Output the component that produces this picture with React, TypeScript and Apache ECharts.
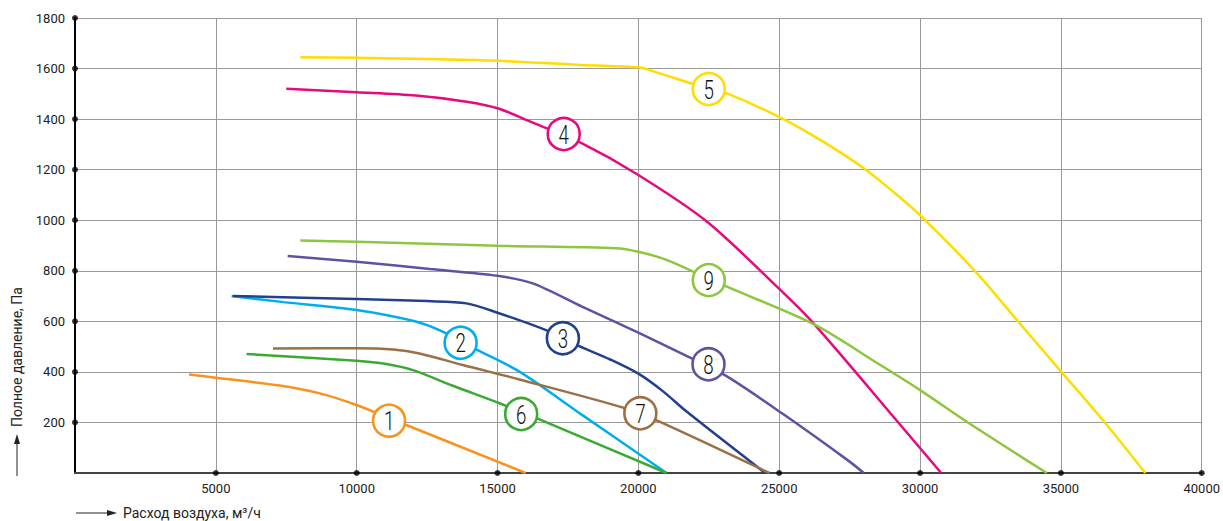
import React, { useEffect, useRef } from "react";
import * as echarts from "echarts";

const curveNames = ["1", "2", "3", "4", "5", "6", "7", "8", "9"];
const curveColors = ["#F7931E", "#00AEEF", "#22408F", "#E6097F", "#FFDD00", "#3AAA35", "#9C7047", "#5E52A2", "#8DC63F"];

const flow1 = [4050, 5000, 7270, 8690, 9990, 11760, 16000];
const pres1 = [390, 377, 346, 315, 269, 190, 0];
const flow2 = [5560, 7400, 10000, 12100, 13050, 14240, 15780, 18000, 21000];
const pres2 = [700, 676, 645, 599, 559, 489, 401, 230, 0];
const flow3 = [5600, 10000, 12500, 13900, 15000, 16700, 17900, 19000, 20030, 20900, 21690, 24500];
const pres3 = [700, 688, 680, 671, 634, 566, 502, 449, 391, 321, 245, 0];
const flow4 = [7500, 10000, 12100, 13900, 15000, 16250, 18000, 20000, 22440, 24975, 26250, 29250, 30750];
const pres4 = [1520, 1506, 1493, 1469, 1443, 1386, 1304, 1179, 994, 731, 588, 197, 0];
const flow5 = [8000, 10000, 15000, 18000, 20000, 20400, 22500, 23140, 24975, 26500, 28014, 29000, 30000, 31975, 33510, 35010, 36580, 38000];
const pres5 = [1645, 1643, 1631, 1614, 1605, 1594, 1519, 1502, 1410, 1315, 1205, 1117, 1020, 796, 596, 401, 197, 0];
const flow6 = [6090, 9990, 11050, 12000, 13420, 15070, 16490, 21000];
const pres6 = [471, 444, 431, 407, 345, 276, 212, 0];
const flow7 = [7030, 9990, 11290, 12230, 13770, 15780, 19540, 20750, 24650];
const pres7 = [493, 494, 489, 473, 427, 370, 256, 203, 0];
const flow8 = [7550, 10000, 12600, 15000, 16250, 18000, 20000, 21800, 23100, 25100, 27500, 28000];
const pres8 = [858, 836, 807, 780, 750, 658, 555, 458, 385, 236, 45, 0];
const flow9 = [8000, 10000, 15000, 19200, 20000, 21000, 22500, 23140, 26240, 28550, 30000, 31740, 34500];
const pres9 = [920, 915, 899, 889, 875, 843, 768, 737, 588, 430, 328, 197, 0];

const labelFlow = [11150, 13690, 17320, 17350, 22500, 15840, 20070, 22490, 22500];
const labelPressure = [207, 515, 533, 1341, 1519, 233, 236, 430, 763];

const xTicks = [5000, 10000, 15000, 20000, 25000, 30000, 35000, 40000];
const yTicks = [200, 400, 600, 800, 1000, 1200, 1400, 1600, 1800];

const flows = [flow1, flow2, flow3, flow4, flow5, flow6, flow7, flow8, flow9];
const pressures = [pres1, pres2, pres3, pres4, pres5, pres6, pres7, pres8, pres9];

const FONT = "Roboto, 'DejaVu Sans', sans-serif";

export default function App() {
  const ref = useRef<HTMLDivElement>(null);
  useEffect(() => {
    if (!ref.current) return;
    const chart = echarts.init(ref.current, undefined, { renderer: "svg" });
    const lineSeries = flows.map((f, i) => ({
      type: "line",
      name: curveNames[i],
      data: f.map((x, j) => [x, pressures[i][j]]),
      smooth: 0.3,
      showSymbol: false,
      symbol: "none",
      lineStyle: { color: curveColors[i], width: 2.5 },
      z: 3,
      silent: true,
    }));
    const labelSeries = {
      type: "custom",
      data: labelFlow.map((x, i) => [x, labelPressure[i], i]),
      z: 5,
      clip: false,
      silent: true,
      renderItem: (_params: any, api: any) => {
        const pt = api.coord([api.value(0), api.value(1)]);
        const i = api.value(2);
        return {
          type: "group",
          children: [
            {
              type: "circle",
              shape: { cx: pt[0], cy: pt[1], r: 16 },
              style: { fill: "#ffffff", stroke: curveColors[i], lineWidth: 2.6 },
            },
            {
              type: "text",
              x: pt[0],
              y: pt[1] + 1,
              scaleX: 0.72,
              style: {
                text: curveNames[i],
                fontSize: 26,
                fontWeight: 300,
                fontFamily: FONT,
                fill: "#111",
                align: "center",
                verticalAlign: "middle",
              },
            },
          ],
        };
      },
    };
    const dotSeries = {
      type: "scatter",
      data: [...xTicks.map((x) => [x, 0]), ...yTicks.map((y) => [0, y])],
      symbol: "circle",
      symbolSize: 6,
      itemStyle: { color: "#000" },
      z: 6,
      clip: false,
      silent: true,
    };
    chart.setOption({
      animation: false,
      backgroundColor: "#ffffff",
      grid: { left: 75, right: 20, top: 18, bottom: 48, containLabel: false },
      xAxis: {
        type: "value",
        min: 0,
        max: 40000,
        interval: 5000,
        axisLine: { show: true, onZero: false, lineStyle: { color: "#444", width: 2 } },
        axisTick: { show: false },
        axisLabel: {
          color: "#222",
          fontSize: 13,
          fontFamily: FONT,
          margin: 9,
          formatter: (v: number) => (v === 0 ? "" : String(v)),
        },
        splitLine: { show: true, lineStyle: { color: "#9a9a9a", width: 1 } },
      },
      yAxis: {
        type: "value",
        min: 0,
        max: 1800,
        interval: 200,
        axisLine: { show: true, onZero: false, lineStyle: { color: "#000", width: 2 } },
        axisTick: { show: false },
        axisLabel: {
          color: "#222",
          fontSize: 13,
          fontFamily: FONT,
          margin: 10,
          formatter: (v: number) => (v === 0 ? "" : String(v)),
        },
        splitLine: { show: true, lineStyle: { color: "#9a9a9a", width: 1 } },
      },
      graphic: [
        {
          type: "text",
          x: 17,
          y: 427,
          rotation: Math.PI / 2,
          style: {
            text: "Полное давление, Па",
            fontSize: 14,
            fontFamily: FONT,
            fill: "#222",
            align: "left",
            verticalAlign: "middle",
          },
        },
        { type: "line", shape: { x1: 17, y1: 476, x2: 17, y2: 442 }, style: { stroke: "#222", lineWidth: 1 } },
        { type: "polygon", shape: { points: [[17, 434], [14, 444], [20, 444]] }, style: { fill: "#222" } },
        { type: "line", shape: { x1: 76, y1: 513, x2: 108, y2: 513 }, style: { stroke: "#222", lineWidth: 1 } },
        { type: "polygon", shape: { points: [[117, 513], [107, 510], [107, 516]] }, style: { fill: "#222" } },
        {
          type: "text",
          x: 123,
          y: 513,
          style: {
            text: "Расход воздуха, м³/ч",
            fontSize: 14,
            fontFamily: FONT,
            fill: "#222",
            align: "left",
            verticalAlign: "middle",
          },
        },
      ],
      series: [...lineSeries, labelSeries, dotSeries],
    });
    return () => chart.dispose();
  }, []);
  return (
    <div
      ref={ref}
      style={{ position: "fixed", left: 0, top: 0, width: 1223, height: 521, background: "#fff" }}
    />
  );
}
